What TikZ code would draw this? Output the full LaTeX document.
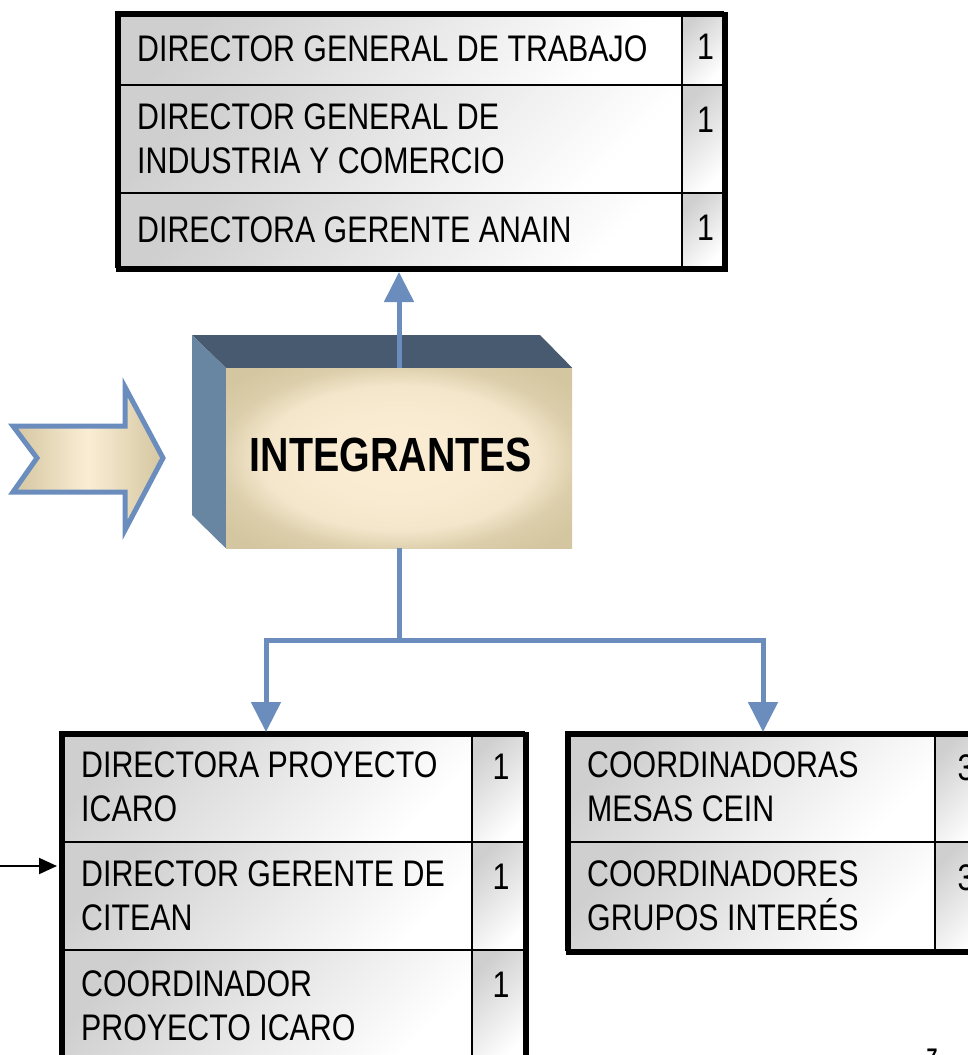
\documentclass[tikz,border=0pt]{standalone}
\usepackage{fontspec}
\setmainfont{Liberation Sans}[FakeStretch=0.82]
\usetikzlibrary{arrows.meta}

\definecolor{linkblue}{RGB}{106,141,190}
\definecolor{topface}{RGB}{72,90,112}
\definecolor{sideface}{RGB}{104,133,161}
\definecolor{tanedge}{RGB}{212,198,160}
\definecolor{cream}{RGB}{250,237,212}

\pgfdeclareradialshading{bevel}{\pgfpoint{0bp}{0bp}}{color(0bp)=(cream); color(12bp)=(cream!95!tanedge); color(20bp)=(cream!82!tanedge); color(26bp)=(tanedge!80!cream); color(32bp)=(tanedge); color(50bp)=(tanedge)}

\tikzset{
    rowtext/.style={anchor=west, align=left, inner sep=0pt, font=\fontsize{37}{44}\selectfont},
    numtext/.style={anchor=north, inner sep=0pt, font=\fontsize{37}{44}\selectfont},
    cellfill/.style={shading=axis, top color=gray!38, bottom color=white, shading angle=45},
    tableframe/.style={draw=black, line width=5pt, inner sep=0pt, anchor=north west},
    link/.style={draw=linkblue, line width=5pt},
    linkhead/.style={-{Triangle[length=30pt,width=29pt]}},
}

% #1 name, #2 left, #3 divider, #4 right, #5 top, #6 bottom, #7 text, #8 number
\newcommand{\drawRow}[8]{
    \shade[cellfill] (#2,#5) rectangle (#3,#6);
    \shade[cellfill] (#3,#5) rectangle (#4,#6);
    \draw[line width=2.5pt] (#2,#5) rectangle (#4,#6);
    \draw[line width=2.5pt] (#3,#5) -- (#3,#6);
    \node[rowtext] (#1) at ({#2+21},{(#5+#6)/2}) {#7};
    \node[numtext] (#1n) at ({(#3+#4)/2+3},{#5+22}) {#8};
}

\begin{document}
\begin{tikzpicture}[x=1pt, y=-1pt]
\useasboundingbox (0,0) rectangle (968,1055);
\clip (0,0) rectangle (968,1055);

% Top table
\drawRow{trabajo}{116}{682}{723}{12}{85}{DIRECTOR GENERAL DE TRABAJO}{1}
\drawRow{industria}{116}{682}{723}{85}{193}{DIRECTOR GENERAL DE\\INDUSTRIA Y COMERCIO}{1}
\drawRow{anain}{116}{682}{723}{193}{267}{DIRECTORA GERENTE ANAIN}{1}
\node[tableframe, minimum width=607pt, minimum height=255pt] (topTable) at (116,12) {};

% Box with its two dark faces
\node[minimum width=346pt, minimum height=180pt, shading=bevel] (integ) at (399,458) {};
\node[font=\fontsize{48}{48}\selectfont\bfseries] (integLabel) at ([xshift=-8pt,yshift=3pt]integ.center) {INTEGRANTES};
\fill[topface] (192,335) -- (540,335) -- (integ.north east) -- (integ.north west) -- cycle;
\fill[sideface] (192,335) -- (integ.north west) -- (integ.south west) -- (192,515) -- cycle;

% Arrow coming in from the left
\draw[linkblue, line width=5pt, left color=tanedge, right color=tanedge, middle color=cream]
    (13,426) -- (37,458) -- (13,492) -- (125,492) -- (125,530) -- (163,458)
    -- (125,387) -- (125,426) -- cycle;

% Bottom left table
\drawRow{icaro}{60}{472}{524}{732}{842}{DIRECTORA PROYECTO\\ICARO}{1}
\drawRow{citean}{60}{472}{524}{842}{950}{DIRECTOR GERENTE DE\\CITEAN}{1}
\drawRow{coordIcaro}{60}{472}{524}{950}{1062}{COORDINADOR\\PROYECTO ICARO}{1}
\node[tableframe, minimum width=464pt, minimum height=330pt] (leftTable) at (60,732) {};

% Bottom right table
\drawRow{mesas}{566}{935}{991}{732}{842}{COORDINADORAS\\MESAS CEIN}{3}
\drawRow{grupos}{566}{935}{991}{842}{950}{COORDINADORES\\GRUPOS INTERÉS}{3}
\node[tableframe, minimum width=425pt, minimum height=218pt] (rightTable) at (566,732) {};

% Connectors
\coordinate (inL) at (266,732);
\coordinate (inR) at (763,732);
\coordinate (feed) at (0,866);
\draw[link, linkhead] (integ.north) -- (topTable.south -| integ.north);
\draw[link] (integ.south) -- ++(0,92) coordinate (split);
\draw[link, linkhead] (split) -| (inL);
\draw[link, linkhead] (split) -| (inR);
\draw[line width=2pt, -{Triangle[length=18pt,width=16pt]}, shorten >=3pt] (feed) -- (feed -| leftTable.west);

% Page number
\node[font=\fontsize{24}{24}\selectfont\bfseries, anchor=base] (pageNum) at (932,1065) {7};

\end{tikzpicture}
\end{document}
